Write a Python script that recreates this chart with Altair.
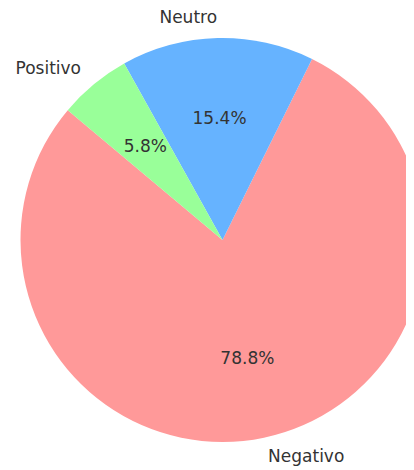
import math
import altair as alt
import pandas as pd

labels = ["Negativo", "Neutro", "Positivo"]
percentages = [78.8, 15.4, 5.8]
colors = ["#ff9999", "#66b3ff", "#99ff99"]
clockwise_order = [3, 2, 1]

df = pd.DataFrame({"label": labels, "pct": percentages, "order": clockwise_order})

start = math.radians(90 - 140)  # matplotlib startangle=140, counter-clockwise
cx, cy, R = 214.5, 232, 202

base = alt.Chart(df).encode(
    theta=alt.Theta("pct:Q", stack=True,
                    scale=alt.Scale(range=[start, start + 2 * math.pi])),
    order=alt.Order("order:Q"),
    x=alt.value(cx),
    y=alt.value(cy),
).transform_calculate(
    pct_text="format(datum.pct, '.1f') + '%'",
    left_text="datum.label == 'Negativo' ? datum.label : ''",
    right_text="datum.label != 'Negativo' ? datum.label : ''",
)

arcs = base.mark_arc(outerRadius=R, strokeWidth=0).encode(
    color=alt.Color("label:N", scale=alt.Scale(domain=labels, range=colors), legend=None)
)

txt = dict(font="DejaVu Sans", fontSize=17, color="#333333", baseline="middle")

pct_labels = base.mark_text(radius=R * 0.6, align="center", **txt).encode(text="pct_text:N")
left_labels = base.mark_text(radius=R * 1.1, align="left", **txt).encode(text="left_text:N")
right_labels = base.mark_text(radius=R * 1.1, align="right", **txt).encode(text="right_text:N")

chart = alt.layer(arcs, pct_labels, left_labels, right_labels).properties(
    width=398, height=458, autosize=alt.AutoSizeParams(type="none"), padding=0
).configure_view(stroke=None)

chart.save("out.html", embed_options={"renderer": "svg", "actions": False})
